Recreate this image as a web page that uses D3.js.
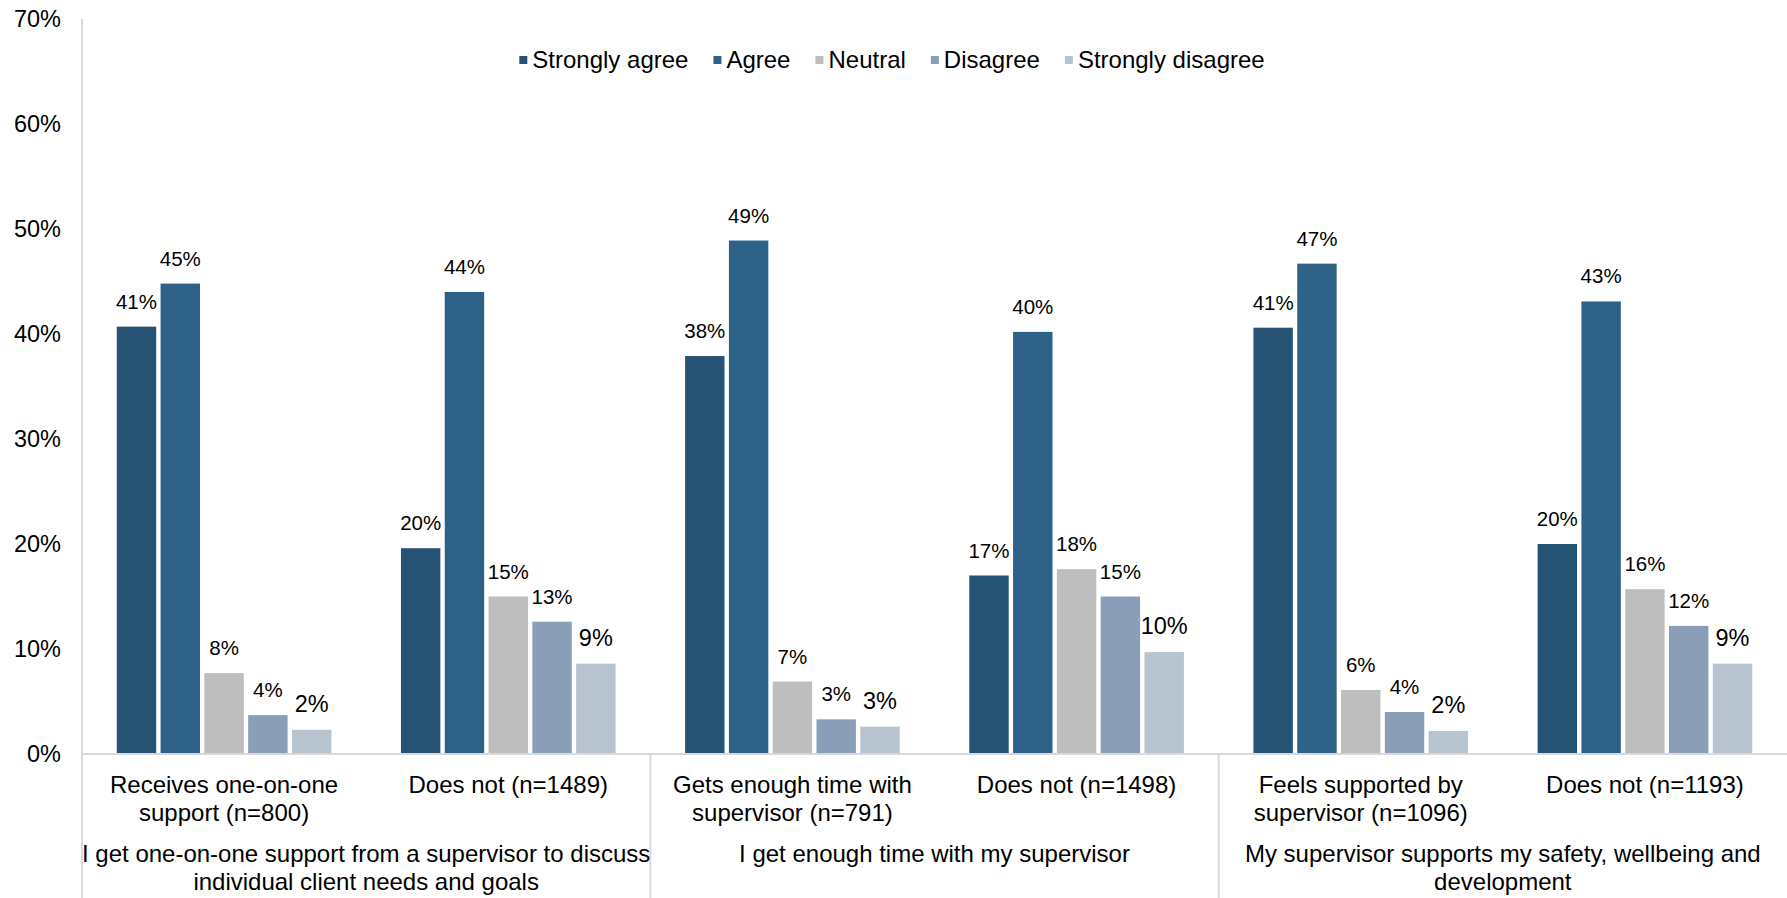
<!DOCTYPE html>
<html>
<head>
<meta charset="utf-8">
<script src="https://cdn.jsdelivr.net/npm/d3@7"></script>
<style>
  html, body { margin: 0; padding: 0; background: #fff; }
  svg { display: block; font-family: "Liberation Sans", Arial, sans-serif; }
</style>
</head>
<body>
<svg id="chart" width="1787" height="898"></svg>
<script>
// --- data ---
const seriesNames = ["Strongly agree", "Agree", "Neutral", "Disagree", "Strongly disagree"];
const seriesColors = ["#265273", "#2e6188", "#bebebe", "#8a9fb7", "#b7c3cf"];

const categories = [
    "Receives one-on-one\nsupport (n=800)",
    "Does not (n=1489)",
    "Gets enough time with\nsupervisor (n=791)",
    "Does not (n=1498)",
    "Feels supported by\nsupervisor (n=1096)",
    "Does not (n=1193)",
];
const groupLabels = [
    "I get one-on-one support from a supervisor to discuss\nindividual client needs and goals",
    "I get enough time with my supervisor",
    "My supervisor supports my safety, wellbeing and\ndevelopment",
];

// percent per category, one array per series
const stronglyAgree    = [40.7, 19.6, 37.9, 17.0, 40.6, 20.0];
const agree            = [44.8, 44.0, 48.9, 40.2, 46.7, 43.1];
const neutral          = [7.7, 15.0, 6.9, 17.6, 6.1, 15.7];
const disagree         = [3.7, 12.6, 3.3, 15.0, 4.0, 12.2];
const stronglyDisagree = [2.3, 8.6, 2.6, 9.7, 2.2, 8.6];

const yTicks = [0, 10, 20, 30, 40, 50, 60, 70];

const seriesValues = [stronglyAgree, agree, neutral, disagree, stronglyDisagree];

// --- layout ---
const W = 1787, H = 898;
const plot = { left: 82, right: 1787, top: 19, bottom: 754 };
const FONT_TICK = 23.5, FONT_LABEL = 20.5, FONT_LABEL_BIG = 23.5, FONT_CAT = 24, FONT_LEGEND = 24;
const gridColor = "#d9d9d9";

const svg = d3.select("#chart");

const x0 = d3.scaleBand().domain(d3.range(categories.length)).range([plot.left, plot.right]).padding(0);
const x1 = d3.scaleBand().domain(d3.range(seriesNames.length)).range([0, x0.bandwidth()])
    .paddingInner(0.1).paddingOuter(0.794);
const y = d3.scaleLinear().domain([0, 70]).range([plot.bottom, plot.top]);

// y axis labels
const yAxis = svg.append("g")
    .attr("transform", `translate(${plot.left},0)`)
    .call(d3.axisLeft(y).tickValues(yTicks).tickSize(0).tickPadding(21).tickFormat((d) => `${d}%`));
yAxis.select(".domain").remove();
yAxis.selectAll("text")
    .attr("font-size", FONT_TICK)
    .attr("font-family", "Liberation Sans, Arial, sans-serif")
    .attr("fill", "#000");

// bars
const rows = categories.map((c, i) => ({ i, vals: seriesValues.map((s) => s[i]) }));
const catG = svg.selectAll(".cat")
    .data(rows)
    .join("g")
    .attr("class", "cat")
    .attr("transform", (d) => `translate(${x0(d.i)},0)`);

catG.selectAll("rect")
    .data((d) => d.vals.map((v, k) => ({ k, v })))
    .join("rect")
    .attr("x", (d) => x1(d.k))
    .attr("width", x1.bandwidth())
    .attr("y", (d) => y(d.v))
    .attr("height", (d) => y(0) - y(d.v))
    .attr("fill", (d) => seriesColors[d.k]);

catG.selectAll("text.val")
    .data((d) => d.vals.map((v, k) => ({ k, v })))
    .join("text")
    .attr("class", "val")
    .attr("x", (d) => x1(d.k) + x1.bandwidth() / 2)
    .attr("y", (d) => y(d.v) - 18)
    .attr("text-anchor", "middle")
    .attr("font-size", (d) => d.k === 4 ? FONT_LABEL_BIG : FONT_LABEL)
    .attr("fill", "#000")
    .text((d) => `${Math.round(d.v)}%`);

// axis lines
svg.append("line")
    .attr("x1", plot.left).attr("x2", plot.right)
    .attr("y1", y(0)).attr("y2", y(0))
    .attr("stroke", gridColor).attr("stroke-width", 2);
svg.append("line")
    .attr("x1", plot.left).attr("x2", plot.left)
    .attr("y1", plot.top).attr("y2", H)
    .attr("stroke", gridColor).attr("stroke-width", 2);

// group separators below the axis
const groupSize = 2;
groupLabels.forEach((g, gi) => {
    if (gi > 0) {
        const sx = x0(gi * groupSize);
        svg.append("line")
            .attr("x1", sx).attr("x2", sx)
            .attr("y1", y(0)).attr("y2", H)
            .attr("stroke", gridColor).attr("stroke-width", 2);
    }
});

// category labels
categories.forEach((c, i) => {
    const t = svg.append("text")
        .attr("text-anchor", "middle")
        .attr("font-size", FONT_CAT)
        .attr("fill", "#000");
    c.split("\n").forEach((line, li) => {
        t.append("tspan")
            .attr("x", x0(i) + x0.bandwidth() / 2)
            .attr("y", 793 + li * 28)
            .text(line);
    });
});

// group labels
groupLabels.forEach((g, gi) => {
    const cx = (x0(gi * groupSize) + x0(gi * groupSize + groupSize - 1) + x0.bandwidth()) / 2;
    const t = svg.append("text")
        .attr("text-anchor", "middle")
        .attr("font-size", FONT_CAT)
        .attr("fill", "#000");
    g.split("\n").forEach((line, li) => {
        t.append("tspan")
            .attr("x", cx)
            .attr("y", 862 + li * 28)
            .text(line);
    });
});

// legend, centred on the page
const legend = svg.append("g");
let lx = 0;
seriesNames.forEach((name, k) => {
    const item = legend.append("g").attr("transform", `translate(${lx},0)`);
    item.append("rect").attr("x", 0).attr("y", -12).attr("width", 8).attr("height", 8).attr("fill", seriesColors[k]);
    const txt = item.append("text").attr("x", 13).attr("y", 0)
        .attr("font-size", FONT_LEGEND).attr("fill", "#000").text(name);
    lx += 13 + txt.node().getComputedTextLength() + 25;
});
const legendW = lx - 25;
legend.attr("transform", `translate(${892 - legendW / 2},68)`);
</script>
</body>
</html>
